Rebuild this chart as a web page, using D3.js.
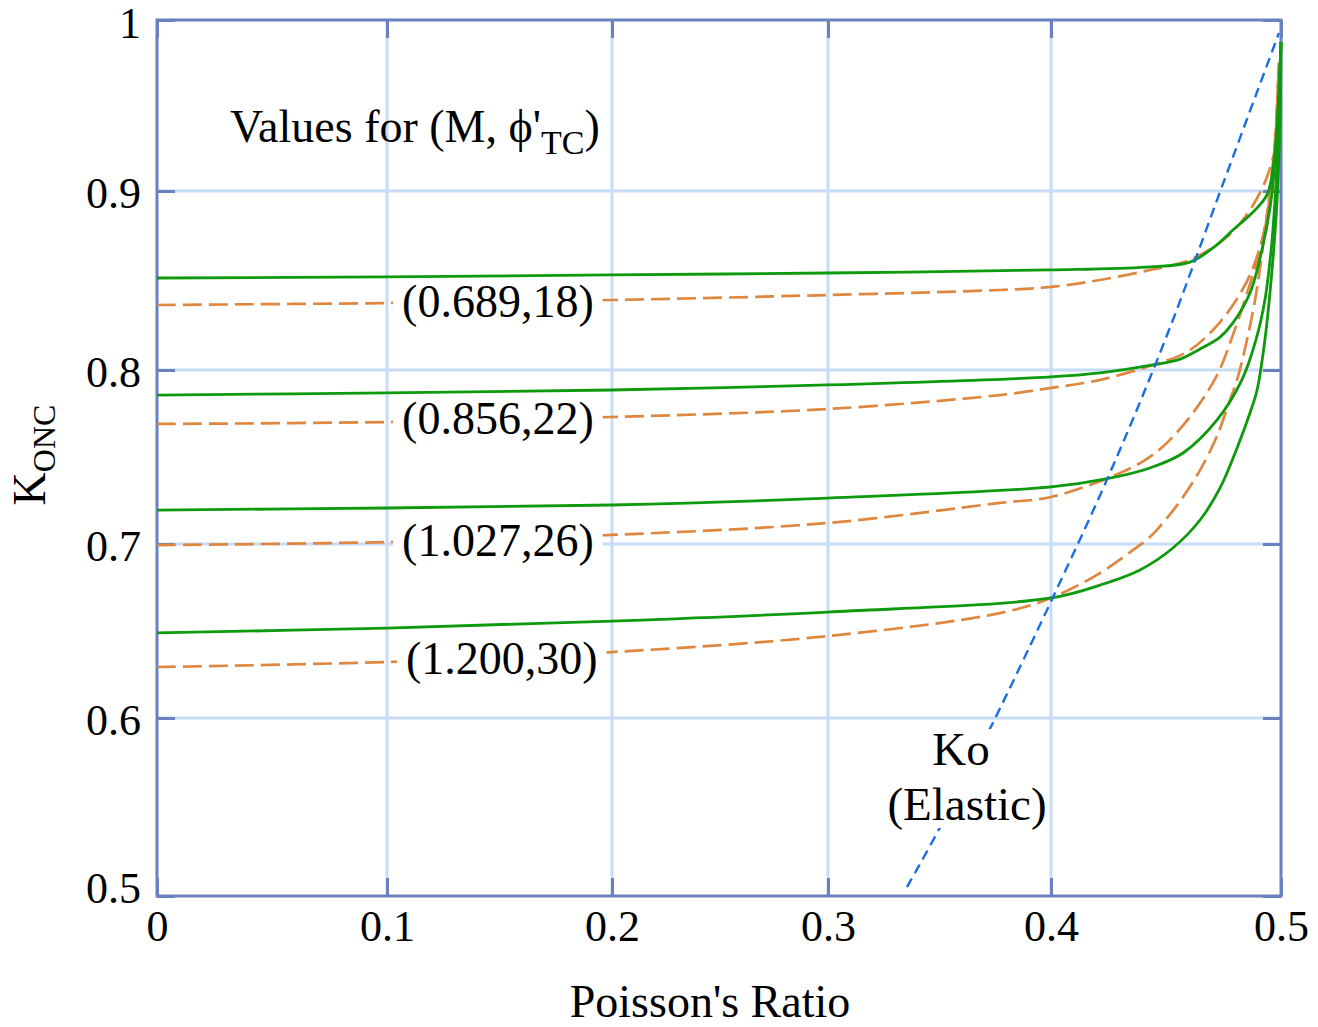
<!DOCTYPE html>
<html>
<head>
<meta charset="utf-8">
<title>K0NC vs Poisson's ratio</title>
<script src="https://d3js.org/d3.v7.min.js"></script>
<style>
  body { margin: 0; background: #fff; }
  text { font-family: "Liberation Serif", "Times New Roman", serif; fill: #000; }
</style>
</head>
<body>
<svg id="chart" width="1318" height="1027"></svg>
<script>
// tick values
var xTicks = [0, 0.1, 0.2, 0.3, 0.4, 0.5];
var yTicks = [0.5, 0.6, 0.7, 0.8, 0.9, 1];

// K0NC curves, [poisson ratio, K]
// solid (green) series
var green1 = [[0,0.8514],[0.1,0.852],[0.2,0.8531],[0.3,0.8542],[0.4,0.8559],[0.4413,0.8575],[0.4604,0.8603],[0.4704,0.8682],[0.4791,0.8782],[0.4874,0.8877],[0.4939,0.8978],[0.497,0.9181],[0.4987,0.9474],[0.5,0.9871]];
var green2 = [[0,0.7856],[0.1,0.7868],[0.2,0.7885],[0.3,0.7914],[0.4,0.796],[0.4213,0.7983],[0.4443,0.8028],[0.4561,0.8061],[0.4648,0.8117],[0.4735,0.8184],[0.4791,0.8263],[0.4865,0.843],[0.4917,0.867],[0.4957,0.895],[0.4983,0.9357],[0.5,0.9871]];
var green3 = [[0,0.7195],[0.1,0.7207],[0.2,0.7224],[0.3,0.7264],[0.4,0.7328],[0.4239,0.7374],[0.443,0.7437],[0.4574,0.7523],[0.4722,0.7713],[0.483,0.7943],[0.4891,0.8168],[0.493,0.8391],[0.4957,0.867],[0.4974,0.895],[0.4991,0.9415],[0.5,0.9871]];
var green4 = [[0,0.6489],[0.1,0.6517],[0.2,0.6557],[0.3,0.6609],[0.4,0.669],[0.4213,0.6764],[0.4387,0.6851],[0.453,0.6977],[0.4648,0.7138],[0.4735,0.7322],[0.4809,0.7552],[0.4865,0.7753],[0.4896,0.7885],[0.493,0.8168],[0.4961,0.8559],[0.4983,0.895],[0.4996,0.9415],[0.5,0.9871]];
// dashed (orange) series
var orange1 = [[0,0.8363],[0.1,0.8374],[0.2,0.8391],[0.3,0.8419],[0.3771,0.8447],[0.4,0.8464],[0.4213,0.8503],[0.4431,0.8559],[0.4604,0.8615],[0.4765,0.8743],[0.4865,0.8894],[0.4939,0.9082],[0.4983,0.9316],[0.4991,0.9749]];
var orange2 = [[0,0.769],[0.1,0.7701],[0.2,0.773],[0.3,0.7776],[0.3771,0.7856],[0.4,0.7897],[0.4213,0.7943],[0.4443,0.8028],[0.4591,0.8101],[0.4704,0.8223],[0.4791,0.8363],[0.4865,0.8531],[0.4917,0.8726],[0.4952,0.895],[0.4974,0.924],[0.4991,0.9749]];
var orange3 = [[0,0.6994],[0.1,0.7011],[0.2,0.7052],[0.3,0.7121],[0.3771,0.7236],[0.4,0.727],[0.4239,0.7374],[0.4357,0.7443],[0.443,0.7501],[0.4504,0.7581],[0.4617,0.7753],[0.4722,0.7971],[0.4791,0.8196],[0.4857,0.8447],[0.4909,0.867],[0.4943,0.8894],[0.497,0.9181],[0.4991,0.9749]];
var orange4 = [[0,0.6293],[0.1,0.6322],[0.2,0.6379],[0.3,0.6471],[0.3771,0.6603],[0.4,0.669],[0.4213,0.6833],[0.4357,0.6966],[0.443,0.704],[0.4504,0.7149],[0.4574,0.727],[0.4648,0.7425],[0.4722,0.7621],[0.4778,0.7828],[0.4809,0.7943],[0.4852,0.8168],[0.4891,0.8419],[0.4922,0.8698],[0.4952,0.9006],[0.4974,0.9298],[0.4991,0.9749]];
// elastic Ko line
var elastic = [[0.3354,0.505],[0.35,0.538],[0.375,0.600],[0.4,0.667],[0.425,0.739],[0.45,0.818],[0.475,0.905],[0.4991,0.9924]];

// curve labels: (M, phi'TC)
var curveLabels = ["(0.689,18)", "(0.856,22)", "(1.027,26)", "(1.200,30)"];
var labelNu = [0.1067, 0.1067, 0.1067, 0.1084];
var labelK = [0.8374, 0.7712, 0.7011, 0.6335];

var svg = d3.select("#chart");
// the original axes are not quite evenly spaced, so map each tick
var x = d3.scaleLinear().domain(xTicks).range([157, 387, 612, 828, 1051, 1281]);
var y = d3.scaleLinear().domain(yTicks).range([896, 718, 544, 370, 191, 20]);
var x0 = x(0), x1 = x(0.5), y0 = y(0.5), y1 = y(1);

var frameCol = "#6b80bf", gridCol = "#c6dcf7";

// grid
svg.append("g").selectAll("line").data(xTicks.slice(1, -1)).enter().append("line")
   .attr("x1", d => x(d)).attr("x2", d => x(d)).attr("y1", y1).attr("y2", y0)
   .attr("stroke", gridCol).attr("stroke-width", 3);
svg.append("g").selectAll("line").data(yTicks.slice(1, -1)).enter().append("line")
   .attr("y1", d => y(d)).attr("y2", d => y(d)).attr("x1", x0).attr("x2", x1)
   .attr("stroke", gridCol).attr("stroke-width", 3);

// axes with inner ticks
function styleAxis(g) {
  g.select(".domain").remove();
  g.selectAll(".tick line").attr("stroke", frameCol).attr("stroke-width", 3);
  g.selectAll(".tick text").style("font-family", "Liberation Serif, serif").style("font-size", "44px").attr("fill", "#000");
}
svg.append("g").attr("transform", "translate(0," + y0 + ")")
   .call(d3.axisBottom(x).tickValues(xTicks).tickSize(-18).tickPadding(0).tickFormat(d3.format("")))
   .call(styleAxis)
   .selectAll(".tick text").attr("y", 45).attr("dy", 0);
svg.append("g").attr("transform", "translate(0," + y1 + ")")
   .call(d3.axisTop(x).tickValues(xTicks).tickSize(-18).tickFormat(""))
   .call(styleAxis);
svg.append("g").attr("transform", "translate(" + x0 + ",0)")
   .call(d3.axisLeft(y).tickValues(yTicks).tickSize(-18).tickFormat(d3.format("")))
   .call(styleAxis)
   .selectAll(".tick text").attr("x", -16)
   .attr("dy", d => d === 0.5 ? 6 : (d === 1 ? 17 : 16));
svg.append("g").attr("transform", "translate(" + x1 + ",0)")
   .call(d3.axisRight(y).tickValues(yTicks).tickSize(-18).tickFormat(""))
   .call(styleAxis);

// frame
svg.append("rect").attr("x", x0).attr("y", y1).attr("width", x1 - x0).attr("height", y0 - y1)
   .attr("fill", "none").attr("stroke", frameCol).attr("stroke-width", 3);

var line = d3.line().x(d => x(d[0])).y(d => y(d[1])).curve(d3.curveCatmullRom.alpha(0.5));

svg.append("g").selectAll("path").data([orange1, orange2, orange3, orange4]).enter().append("path")
   .attr("d", line).attr("fill", "none").attr("stroke", "#e0873f").attr("stroke-width", 2.7)
   .attr("stroke-dasharray", "19,7");
svg.append("g").selectAll("path").data([green1, green2, green3, green4]).enter().append("path")
   .attr("d", line).attr("fill", "none").attr("stroke", "#0d9a0d").attr("stroke-width", 2.8);
svg.append("path").datum(elastic).attr("d", line).attr("fill", "none")
   .attr("stroke", "#1a6fe0").attr("stroke-width", 2.4).attr("stroke-dasharray", "10,6");

// labels with white background
function boxedText(tx, ty, str, anchor, size) {
  var g = svg.append("g");
  var r = g.append("rect").attr("fill", "#fff");
  var t = g.append("text").attr("x", tx).attr("y", ty).attr("text-anchor", anchor)
     .style("font-size", size + "px").text(str);
  var b = t.node().getBBox();
  r.attr("x", b.x - 9).attr("y", b.y + 4).attr("width", b.width + 18).attr("height", b.height - 6);
  return t;
}
curveLabels.forEach(function(s, i) {
  boxedText(x(labelNu[i]), y(labelK[i]) + 14, s, "start", 46);
});

// Ko (Elastic) label breaking the dashed line
var koG = svg.append("g");
var koBg = koG.append("rect").attr("fill", "#fff");
var ko = koG.append("text").attr("text-anchor", "middle").style("font-size", "47px");
ko.append("tspan").attr("x", 961).attr("y", 765).text("Ko");
ko.append("tspan").attr("x", 967).attr("y", 820).text("(Elastic)");
var kb = ko.node().getBBox();
koBg.attr("x", kb.x).attr("y", kb.y + 6).attr("width", kb.width).attr("height", kb.height - 8);

// title inside the plot
var title = svg.append("text").attr("x", 230).attr("y", 142).style("font-size", "46px");
title.append("tspan").text("Values for (M, \u03d5'");
title.append("tspan").attr("dy", 12).style("font-size", "34px").text("TC");
title.append("tspan").attr("dy", -12).text(")");

// axis titles
svg.append("text").attr("x", 710).attr("y", 1017).attr("text-anchor", "middle")
   .style("font-size", "46px").text("Poisson's Ratio");
var yl = svg.append("text").attr("transform", "translate(45,455) rotate(-90)")
   .attr("text-anchor", "middle").style("font-size", "46px");
yl.append("tspan").text("K");
yl.append("tspan").attr("dy", 10).style("font-size", "32px").text("ONC");
</script>
</body>
</html>
